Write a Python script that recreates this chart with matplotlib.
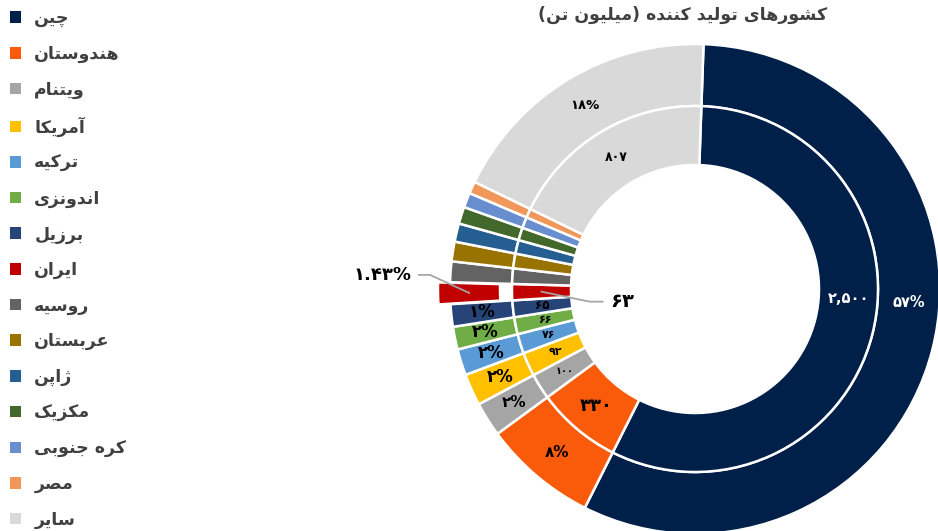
import numpy as np
import matplotlib
matplotlib.use('Agg')
import matplotlib.pyplot as plt
from matplotlib.patches import Patch

# data (million tonnes)
countries = ['چین', 'هندوستان', 'ویتنام', 'آمریکا', 'ترکیه', 'اندونزی', 'برزیل', 'ایران',
             'روسیه', 'عربستان', 'ژاپن', 'مکزیک', 'کره جنوبی', 'مصر', 'سایر']
production = [2500, 330, 100, 92, 76, 66, 65, 63, 60, 57, 53, 49, 43, 35, 807]
title = 'کشورهای تولید کننده (میلیون تن)'

colors = ['#002049', '#f95b0a', '#a5a5a5', '#ffc000', '#5b9bd5', '#70ad47', '#264478', '#c00000',
          '#636363', '#997300', '#255e91', '#43682b', '#698ed0', '#f1975a', '#d9d9d9']

# --- tiny persian shaper (matplotlib has no arabic shaping) ---
F = {
    'ا': (0xFE8D, 0xFE8E, None, None), 'آ': (0xFE81, 0xFE82, None, None),
    'ب': (0xFE8F, 0xFE90, 0xFE91, 0xFE92), 'پ': (0xFB56, 0xFB57, 0xFB58, 0xFB59),
    'ت': (0xFE95, 0xFE96, 0xFE97, 0xFE98), 'ج': (0xFE9D, 0xFE9E, 0xFE9F, 0xFEA0),
    'چ': (0xFB7A, 0xFB7B, 0xFB7C, 0xFB7D), 'د': (0xFEA9, 0xFEAA, None, None),
    'ر': (0xFEAD, 0xFEAE, None, None), 'ز': (0xFEAF, 0xFEB0, None, None),
    'ژ': (0xFB8A, 0xFB8B, None, None), 'س': (0xFEB1, 0xFEB2, 0xFEB3, 0xFEB4),
    'ش': (0xFEB5, 0xFEB6, 0xFEB7, 0xFEB8), 'ص': (0xFEB9, 0xFEBA, 0xFEBB, 0xFEBC),
    'ع': (0xFEC9, 0xFECA, 0xFECB, 0xFECC), 'ک': (0xFB8E, 0xFB8F, 0xFB90, 0xFB91),
    'ل': (0xFEDD, 0xFEDE, 0xFEDF, 0xFEE0), 'م': (0xFEE1, 0xFEE2, 0xFEE3, 0xFEE4),
    'ن': (0xFEE5, 0xFEE6, 0xFEE7, 0xFEE8), 'و': (0xFEED, 0xFEEE, None, None),
    'ه': (0xFEE9, 0xFEEA, 0xFEEB, 0xFEEC), 'ی': (0xFBFC, 0xFBFD, 0xFBFE, 0xFBFF),
}

def fa(s):
    out = []
    for i, c in enumerate(s):
        if c not in F:
            out.append(c)
            continue
        p = s[i - 1] if i > 0 else ''
        n = s[i + 1] if i < len(s) - 1 else ''
        pj = p in F and F[p][2] is not None
        nj = F[c][2] is not None and n in F
        if pj and nj:
            k = 3
        elif pj:
            k = 1
        elif nj:
            k = 2
        else:
            k = 0
        out.append(chr(F[c][k]))
    vis = ''.join(out)[::-1]
    return vis.translate(str.maketrans('()', ')('))

def fanum(s):
    return s.translate(str.maketrans('0123456789', '۰۱۲۳۴۵۶۷۸۹'))

plt.rcParams['font.family'] = ['DejaVu Sans']
plt.rcParams['font.weight'] = 'bold'

fig = plt.figure(figsize=(9.38, 5.31), dpi=100)
ax = fig.add_axes([0, 0, 1, 1])

cx, cy = 695, 242
R_out, R_mid, R_in = 245, 183, 124
iran = countries.index('ایران')
explode = [12 if i == iran else 0 for i in range(len(production))]

outer, _ = ax.pie(production, radius=R_out, center=(cx, cy), startangle=88, counterclock=False,
                  colors=colors, explode=explode,
                  wedgeprops=dict(width=R_out - R_mid, edgecolor='white', linewidth=1.8))
inner, _ = ax.pie(production, radius=R_mid, center=(cx, cy), startangle=88, counterclock=False,
                  colors=colors,
                  wedgeprops=dict(width=R_mid - R_in, edgecolor='white', linewidth=1.8))
ax.set_xlim(0, 938)
ax.set_ylim(0, 531)
ax.set_aspect('equal')
ax.axis('off')

total = sum(production)
labelled = [0, 1, 2, 3, 4, 5, 6, 14]
out_size = {0: 10.5, 1: 11, 2: 11, 3: 12, 4: 12, 5: 12, 6: 12, 14: 9.5}
in_size = {0: 10.5, 1: 13, 2: 7, 3: 8, 4: 8, 5: 8, 6: 8.5, 14: 9}

def mid_angle(w):
    return np.deg2rad((w.theta1 + w.theta2) / 2)

for i in labelled:
    a = mid_angle(outer[i])
    if i == 0:
        a = np.deg2rad(-3.5)
    col = 'white' if i == 0 else 'black'
    pct = fanum('%d%%' % round(production[i] / total * 100))
    r = (R_out + R_mid) / 2
    ax.text(cx + r * np.cos(a), cy + r * np.sin(a), pct, ha='center', va='center',
            fontsize=out_size[i], color=col, fontweight='bold')
    val = fanum('{:,}'.format(production[i]))
    r = (R_mid + R_in) / 2
    ax.text(cx + r * np.cos(a), cy + r * np.sin(a), val, ha='center', va='center',
            fontsize=in_size[i], color=col, fontweight='bold')

# iran callouts
a = mid_angle(outer[iran])
r = (R_out + R_mid) / 2 + explode[iran]
x0, y0 = cx + r * np.cos(a), cy + r * np.sin(a)
ax.plot([x0, x0 - 39, x0 - 50], [y0, y0 + 18, y0 + 18], color='#a6a6a6', lw=1.3)
ax.text(x0 - 58, y0 + 18, fanum('%.2f%%' % (production[iran] / total * 100)),
        ha='right', va='center', fontsize=13, fontweight='bold')
a = mid_angle(inner[iran])
r = (R_mid + R_in) / 2
x0, y0 = cx + r * np.cos(a), cy + r * np.sin(a)
ax.plot([x0, x0 + 48, x0 + 61], [y0, y0 - 10, y0 - 10], color='#a6a6a6', lw=1.3)
ax.text(x0 + 69, y0 - 10, fanum(str(production[iran])), ha='left', va='center',
        fontsize=14, fontweight='bold')

fig.text(683 / 938, 1 - 15 / 531, fa(title), ha='center', va='center', fontsize=12.5,
         fontweight='bold', color='#404040')

handles = [Patch(facecolor=c, edgecolor='none') for c in colors]
fig.legend(handles, [fa(c) for c in countries], loc='upper left', bbox_to_anchor=(-0.006, 1.012),
           frameon=False, handlelength=0.65, handleheight=0.65, handletextpad=0.75,
           labelspacing=1.01, labelcolor='#404040', prop={'weight': 'bold', 'size': 12.5})

fig.savefig('out.png', dpi=100)
